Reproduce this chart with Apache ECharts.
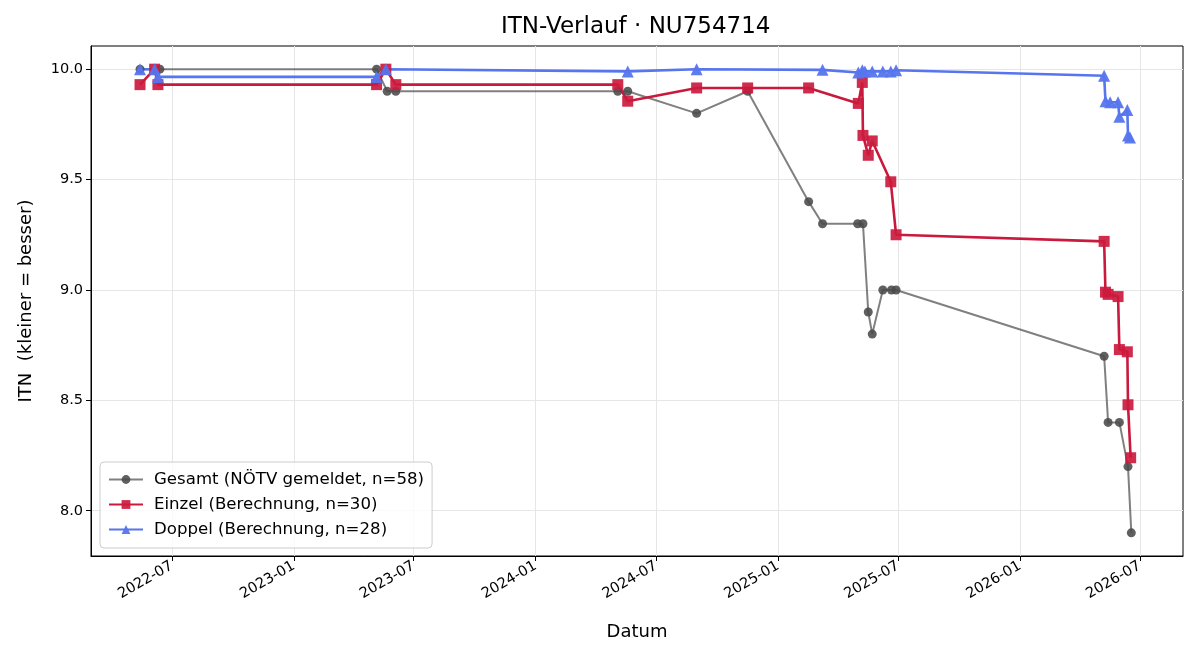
<!DOCTYPE html>
<html>
<head>
<meta charset="utf-8">
<title>ITN-Verlauf</title>
<script src="https://cdn.jsdelivr.net/npm/echarts@6.0.0/dist/echarts.min.js"></script>
<style>
  html, body { margin: 0; padding: 0; background: #fff; }
  #chart { width: 1200px; height: 660px; }
</style>
</head>
<body>
<div id="chart"></div>
<script>
// Gesamt (NÖTV gemeldet)
const gesamtDates = [
  '2022-05-14', '2022-06-13', '2023-05-06', '2023-05-22', '2023-06-04',
  '2024-05-04', '2024-05-19', '2024-08-31', '2024-11-16', '2025-02-16',
  '2025-03-09', '2025-05-01', '2025-05-09', '2025-05-17', '2025-05-23',
  '2025-06-08', '2025-06-21', '2025-06-28', '2026-05-08', '2026-05-14',
  '2026-05-31', '2026-06-13', '2026-06-18'
]
const gesamtValues = [
  10.0, 10.0, 10.0, 9.9, 9.9,
  9.9, 9.9, 9.8, 9.9, 9.4,
  9.3, 9.3, 9.3, 8.9, 8.8,
  9.0, 9.0, 9.0, 8.7, 8.4,
  8.4, 8.2, 7.9
]

// Einzel (Berechnung)
const einzelDates = [
  '2022-05-14', '2022-06-05', '2022-06-10', '2023-05-06', '2023-05-20',
  '2023-06-04', '2024-05-04', '2024-05-19', '2024-08-31', '2024-11-16',
  '2025-02-16', '2025-05-02', '2025-05-08', '2025-05-09', '2025-05-17',
  '2025-05-23', '2025-06-20', '2025-06-28', '2026-05-08', '2026-05-10',
  '2026-05-14', '2026-05-29', '2026-05-31', '2026-06-12', '2026-06-13',
  '2026-06-17'
]
const einzelValues = [
  9.93, 10.0, 9.93, 9.93, 10.0,
  9.93, 9.93, 9.855, 9.915, 9.915,
  9.915, 9.845, 9.94, 9.70, 9.61,
  9.675, 9.49, 9.25, 9.22, 8.99,
  8.98, 8.97, 8.73, 8.72, 8.48,
  8.24
]

// Doppel (Berechnung)
const doppelDates = [
  '2022-05-14', '2022-06-05', '2022-06-10', '2023-05-06', '2023-05-20',
  '2024-05-19', '2024-08-31', '2025-03-09', '2025-05-02', '2025-05-08',
  '2025-05-12', '2025-05-23', '2025-06-08', '2025-06-20', '2025-06-28',
  '2026-05-08', '2026-05-10', '2026-05-17', '2026-05-29', '2026-05-31',
  '2026-06-12', '2026-06-13', '2026-06-16'
]
const doppelValues = [
  10.0, 10.0, 9.965, 9.965, 10.0,
  9.99, 10.0, 9.997, 9.985, 9.995,
  9.99, 9.99, 9.99, 9.99, 9.995,
  9.97, 9.855, 9.85, 9.85, 9.785,
  9.815, 9.70, 9.69
]

const xTickLabels = ['2022-07', '2023-01', '2023-07', '2024-01', '2024-07', '2025-01', '2025-07', '2026-01', '2026-07']
const yTickValues = [8.0, 8.5, 9.0, 9.5, 10.0]
const xRange = ['2022-03-01', '2026-09-04']
const yRange = [7.795, 10.105]

const FONT = 'DejaVu Sans'
const toTs = (s) => Date.parse(s + 'T00:00:00Z')
const pairs = (dates, values) => dates.map((d, i) => [toTs(d), values[i]])
const fmtMonth = (v) => {
  const d = new Date(v)
  return d.getUTCFullYear() + '-' + String(d.getUTCMonth() + 1).padStart(2, '0')
}

const xTicks = xTickLabels.map((m) => toTs(m + '-01'))

const chart = echarts.init(document.getElementById('chart'))

chart.setOption({
  animation: false,
  title: {
    text: 'ITN-Verlauf · NU754714',
    left: 501,
    top: 16,
    padding: 0,
    textStyle: { fontFamily: FONT, fontSize: 23, fontWeight: 'normal', color: '#000' }
  },
  grid: {
    left: 91,
    right: 17,
    top: 46,
    bottom: 104,
    show: true,
    borderColor: '#000',
    borderWidth: 1
  },
  legend: {
    orient: 'vertical',
    left: 100,
    top: 462,
    padding: [9, 8, 10, 8],
    itemWidth: 34,
    itemHeight: 11,
    itemGap: 8,
    backgroundColor: 'rgba(255,255,255,0.8)',
    borderColor: '#cccccc',
    borderWidth: 1,
    borderRadius: 4,
    textStyle: { fontFamily: FONT, fontSize: 16.6, color: '#000', padding: [0, 0, 0, 6] },
    data: ['Gesamt (NÖTV gemeldet, n=58)', 'Einzel (Berechnung, n=30)', 'Doppel (Berechnung, n=28)']
  },
  xAxis: {
    type: 'value',
    min: toTs(xRange[0]),
    max: toTs(xRange[1]),
    name: 'Datum',
    nameLocation: 'middle',
    nameGap: 67,
    nameTextStyle: { fontFamily: FONT, fontSize: 18, color: '#000' },
    axisLine: { show: true, onZero: false, lineStyle: { color: '#000', width: 1 } },
    axisTick: { show: true, length: 5, customValues: xTicks, lineStyle: { color: '#000', width: 1 } },
    axisLabel: {
      customValues: xTicks,
      rotate: 30,
      margin: 9,
      fontFamily: FONT,
      fontSize: 14.5,
      color: '#000',
      formatter: fmtMonth
    },
    splitLine: { show: true, lineStyle: { color: '#e6e6e6', width: 1 } }
  },
  yAxis: {
    type: 'value',
    min: yRange[0],
    max: yRange[1],
    name: 'ITN  (kleiner = besser)',
    nameLocation: 'middle',
    nameGap: 56,
    nameTextStyle: { fontFamily: FONT, fontSize: 18, color: '#000' },
    axisLine: { show: true, lineStyle: { color: '#000', width: 1 } },
    axisTick: { show: true, length: 5, customValues: yTickValues, lineStyle: { color: '#000', width: 1 } },
    axisLabel: {
      customValues: yTickValues,
      margin: 8,
      fontFamily: FONT,
      fontSize: 14.5,
      color: '#000',
      formatter: (v) => v.toFixed(1)
    },
    splitLine: { show: true, lineStyle: { color: '#e6e6e6', width: 1 } }
  },
  series: [
    {
      name: 'Gesamt (NÖTV gemeldet, n=58)',
      type: 'line',
      data: pairs(gesamtDates, gesamtValues),
      symbol: 'circle',
      symbolSize: 9,
      lineStyle: { color: 'rgba(85,85,85,0.75)', width: 2 },
      itemStyle: { color: '#4a4a4a', opacity: 0.88 },
      emphasis: { disabled: true }
    },
    {
      name: 'Einzel (Berechnung, n=30)',
      type: 'line',
      data: pairs(einzelDates, einzelValues),
      symbol: 'rect',
      symbolSize: 11,
      lineStyle: { color: '#c9193c', width: 2.6 },
      itemStyle: { color: '#cc1a3e', opacity: 0.92 },
      emphasis: { disabled: true }
    },
    {
      name: 'Doppel (Berechnung, n=28)',
      type: 'line',
      data: pairs(doppelDates, doppelValues),
      symbol: 'triangle',
      symbolSize: 12,
      lineStyle: { color: '#5675ee', width: 2.6 },
      itemStyle: { color: '#5675ee', opacity: 0.95 },
      emphasis: { disabled: true }
    }
  ]
})
</script>
</body>
</html>
